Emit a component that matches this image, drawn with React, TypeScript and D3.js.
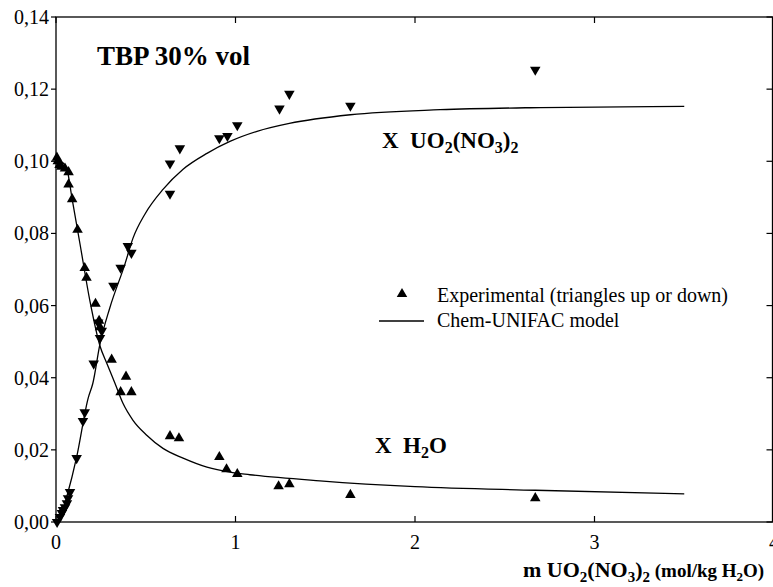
import React from 'react';
import * as d3 from 'd3';

const W = 773;
const H = 587;

// axis ticks
const xTicks = [0, 1, 2, 3, 4];
const yTicks = [0, 0.02, 0.04, 0.06, 0.08, 0.1, 0.12, 0.14];
const yTickLabels = ['0,00', '0,02', '0,04', '0,06', '0,08', '0,10', '0,12', '0,14'];

// experimental, water (triangles up)
const h2oExpM = [0.005, 0.01, 0.02, 0.03, 0.05, 0.07, 0.07, 0.09, 0.12, 0.16, 0.17, 0.22, 0.24, 0.245, 0.31, 0.39, 0.36, 0.42, 0.635, 0.685, 0.91, 0.95, 1.01, 1.24, 1.3, 1.64, 2.67];
const h2oExpX = [0.101, 0.1, 0.099, 0.0985, 0.098, 0.097, 0.0936, 0.0895, 0.081, 0.0704, 0.0677, 0.0605, 0.0558, 0.054, 0.045, 0.0403, 0.036, 0.036, 0.0238, 0.0232, 0.018, 0.0146, 0.0133, 0.0099, 0.0105, 0.0075, 0.0066];

// experimental, uranyl nitrate (triangles down)
const uo2ExpM = [0.006, 0.022, 0.033, 0.039, 0.05, 0.061, 0.067, 0.078, 0.115, 0.15, 0.16, 0.21, 0.245, 0.255, 0.235, 0.32, 0.36, 0.4, 0.42, 0.635, 0.635, 0.69, 0.91, 0.955, 1.01, 1.245, 1.3, 1.64, 2.67];
const uo2ExpX = [0, 0.0014, 0.0025, 0.0033, 0.0041, 0.0052, 0.0066, 0.0083, 0.0177, 0.028, 0.0304, 0.0439, 0.051, 0.053, 0.0553, 0.0655, 0.0705, 0.0765, 0.0746, 0.091, 0.0994, 0.1036, 0.1064, 0.107, 0.11, 0.1146, 0.1187, 0.1154, 0.1254];

// Chem-UNIFAC model curves
const h2oModelM = [0, 0.03, 0.06, 0.09, 0.134, 0.19, 0.245, 0.284, 0.329, 0.373, 0.429, 0.507, 0.596, 0.708, 0.841, 0.969, 1.08, 1.47, 2.0, 2.67, 3.5];
const h2oModelX = [0.1015, 0.1, 0.098, 0.0895, 0.077, 0.061, 0.0488, 0.0439, 0.0384, 0.0329, 0.0282, 0.024, 0.0204, 0.0177, 0.0152, 0.0138, 0.0131, 0.0114, 0.0098, 0.0088, 0.0078];
const uo2ModelM = [0, 0.03, 0.06, 0.115, 0.18, 0.205, 0.245, 0.3, 0.384, 0.429, 0.496, 0.596, 0.708, 0.841, 0.969, 1.12, 1.3, 1.64, 2.14, 2.7, 3.5];
const uo2ModelX = [0, 0.002, 0.007, 0.018, 0.0345, 0.0384, 0.0494, 0.0594, 0.0715, 0.0787, 0.0854, 0.0922, 0.0978, 0.1022, 0.1055, 0.1083, 0.1105, 0.1129, 0.1143, 0.1149, 0.1152];

const serif = "'Liberation Serif', 'DejaVu Serif', serif";

const App = () => {
  const x = d3.scaleLinear().domain([0, 4]).range([56, 774]);
  const y = d3.scaleLinear().domain([0, 0.14]).range([522, 17]);

  const line = d3.line<[number, number]>()
    .x(d => x(d[0]))
    .y(d => y(d[1]))
    .curve(d3.curveMonotoneX);

  const tri = d3.symbol().type(d3.symbolTriangle).size(48)() as string;

  const h2oModel = h2oModelM.map((m, i) => [m, h2oModelX[i]] as [number, number]);
  const uo2Model = uo2ModelM.map((m, i) => [m, uo2ModelX[i]] as [number, number]);

  const left = 56, right = 772.5, top = 17, bottom = 522;

  return (
    <svg width={W} height={H}
      style={{ position: 'absolute', left: 0, top: 0, background: '#fff', fontFamily: serif }}>
      {/* frame */}
      <rect x={left} y={top} width={right - left} height={bottom - top} fill="none" stroke="#000" strokeWidth={1.3} />

      {/* y ticks */}
      {yTicks.map((t, i) => (
        <g key={'y' + i}>
          <line x1={left - 5} x2={left} y1={y(t)} y2={y(t)} stroke="#000" strokeWidth={1.2} />
          <line x1={right - 6} x2={right} y1={y(t)} y2={y(t)} stroke="#000" strokeWidth={1.2} />
          <text x={49} y={y(t) + 7} textAnchor="end" fontSize={20}>{yTickLabels[i]}</text>
        </g>
      ))}

      {/* x ticks */}
      {xTicks.map((t, i) => (
        <g key={'x' + i}>
          <line x1={x(t)} x2={x(t)} y1={bottom} y2={bottom - 6} stroke="#000" strokeWidth={1.2} />
          <line x1={x(t)} x2={x(t)} y1={top} y2={top + 6} stroke="#000" strokeWidth={1.2} />
          <text x={x(t)} y={549} textAnchor="middle" fontSize={20}>{t}</text>
        </g>
      ))}

      {/* model curves */}
      <path d={line(h2oModel) || ''} fill="none" stroke="#000" strokeWidth={1.3} />
      <path d={line(uo2Model) || ''} fill="none" stroke="#000" strokeWidth={1.3} />

      {/* experimental points */}
      {h2oExpM.map((m, i) => (
        <path key={'h' + i} d={tri} transform={`translate(${x(m)},${y(h2oExpX[i])})`} fill="#000" />
      ))}
      {uo2ExpM.map((m, i) => (
        <path key={'u' + i} d={tri} transform={`translate(${x(m)},${y(uo2ExpX[i])}) rotate(180)`} fill="#000" />
      ))}

      {/* annotations */}
      <text x={97} y={65} fontSize={27} fontWeight="bold">TBP 30% vol</text>

      <text x={382} y={148} fontSize={23} fontWeight="bold" xmlSpace="preserve">
        X  UO<tspan fontSize={16} dy={5}>2</tspan><tspan dy={-5}>(NO</tspan>
        <tspan fontSize={16} dy={5}>3</tspan><tspan dy={-5}>)</tspan>
        <tspan fontSize={16} dy={5}>2</tspan>
      </text>

      <text x={375} y={453} fontSize={23} fontWeight="bold" xmlSpace="preserve">
        X  H<tspan fontSize={16} dy={5}>2</tspan><tspan dy={-5}>O</tspan>
      </text>

      {/* legend */}
      <path d={tri} transform="translate(402,294)" fill="#000" />
      <text x={437} y={302} fontSize={20}>Experimental (triangles up or down)</text>
      <line x1={379} x2={424} y1={321} y2={321} stroke="#000" strokeWidth={1.3} />
      <text x={437} y={327} fontSize={20}>Chem-UNIFAC model</text>

      {/* x axis title */}
      <text x={523} y={577} fontSize={22} fontWeight="bold">
        m UO<tspan fontSize={15} dy={5}>2</tspan><tspan dy={-5}>(NO</tspan>
        <tspan fontSize={15} dy={5}>3</tspan><tspan dy={-5}>)</tspan>
        <tspan fontSize={15} dy={5}>2</tspan>
        <tspan fontSize={19} dy={-5}> (mol/kg H</tspan>
        <tspan fontSize={13} dy={4}>2</tspan><tspan fontSize={19} dy={-4}>O)</tspan>
      </text>
    </svg>
  );
};

export default App;
